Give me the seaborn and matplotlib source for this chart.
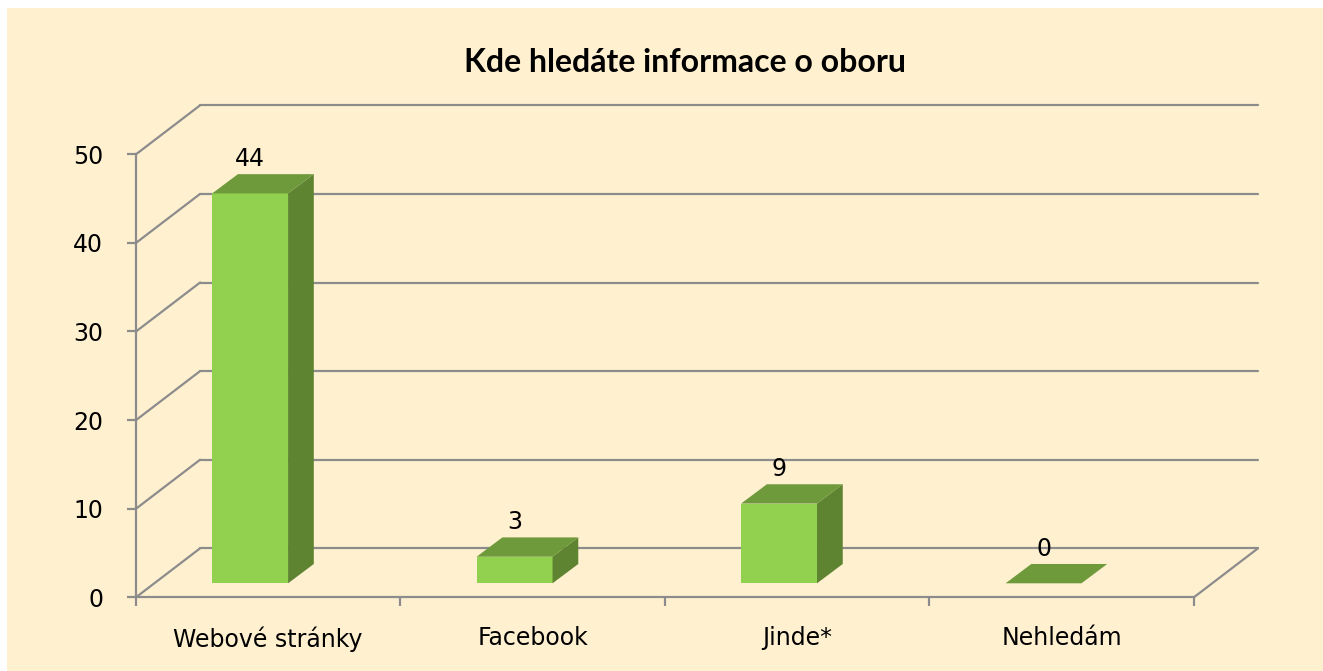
import pandas as pd
import seaborn as sns
import matplotlib.pyplot as plt
from matplotlib.patches import Polygon, Rectangle

# data
categories = ["Webové stránky", "Facebook", "Jinde*", "Nehledám"]
values = [44, 3, 9, 0]
y_ticks = [0, 10, 20, 30, 40, 50]
title = "Kde hledáte informace o oboru"

# colours
BG = "#FFF0D0"
FRONT = "#92D050"
SIDE = "#5E8431"
TOP = "#6E9A3C"
GRID = "#8C8C8C"

# fake 3D geometry (data units)
WALL_DX, WALL_DY = 0.2424, 5.53      # depth of back wall
BAR_W = 0.287                         # front face width
BAR_SHIFT = -0.0685                   # front face centre vs category centre
BAR_BOTTOM = 1.58                     # front face sits a bit into the floor
BAR_DX, BAR_DY = 0.0973, 2.18         # bar depth


def main():
	sns.set_style("white")
	plt.rcParams["font.family"] = ["DejaVu Sans"]
	plt.rcParams["text.color"] = "black"
	plt.rcParams["xtick.labelcolor"] = "black"
	plt.rcParams["ytick.labelcolor"] = "black"

	fig = plt.figure(figsize=(13.23, 6.71), dpi=100)
	fig.patch.set_facecolor("white")
	fig.patches.append(Rectangle((7 / 1323, 0), 1, 1 - 8 / 671, transform=fig.transFigure,
		facecolor=BG, edgecolor="none", zorder=-10))

	ax = fig.add_axes([136 / 1323, 73.7 / 671, 1122 / 1323, 492 / 671])
	ax.set_facecolor("none")

	df = pd.DataFrame({"where": categories, "count": values})
	sns.barplot(data=df, x="where", y="count", color=FRONT, saturation=1,
		width=BAR_W, edgecolor="none", ax=ax, zorder=3)

	ax.set_xlim(-0.5, 3.5 + WALL_DX)
	ax.set_ylim(0, 50 + WALL_DY)

	# back wall gridlines + left wall diagonals
	for k in y_ticks:
		ax.plot([-0.5 + WALL_DX, 3.5 + WALL_DX], [k + WALL_DY, k + WALL_DY],
			color=GRID, lw=1.6, zorder=1, clip_on=False)
		ax.plot([-0.5, -0.5 + WALL_DX], [k, k + WALL_DY],
			color=GRID, lw=1.6, zorder=1, clip_on=False)
	ax.plot([3.5, 3.5 + WALL_DX], [0, WALL_DY], color=GRID, lw=1.6, zorder=1, clip_on=False)

	# turn flat bars into boxes
	for patch, val in zip(ax.patches, values):
		patch.set_x(patch.get_x() + BAR_SHIFT)
		patch.set_y(BAR_BOTTOM)
		x0 = patch.get_x()
		x1 = x0 + patch.get_width()
		b = BAR_BOTTOM
		t = BAR_BOTTOM + val
		side = Polygon([(x1, b), (x1, t), (x1 + BAR_DX, t + BAR_DY), (x1 + BAR_DX, b + BAR_DY)],
			closed=True, facecolor=SIDE, edgecolor="none", zorder=3)
		top = Polygon([(x0, t), (x1, t), (x1 + BAR_DX, t + BAR_DY), (x0 + BAR_DX, t + BAR_DY)],
			closed=True, facecolor=TOP, edgecolor="none", zorder=3)
		ax.add_patch(side)
		ax.add_patch(top)
		ax.annotate(str(val), ((x0 + x1) / 2, t + BAR_DY), xytext=(0, 2.5),
			textcoords="offset points", ha="center", va="bottom", fontsize=17,
			color="black", zorder=5)

	# axes styling
	for s in ["top", "right"]:
		ax.spines[s].set_visible(False)
	ax.spines["left"].set_bounds(0, 50)
	ax.spines["bottom"].set_bounds(-0.5, 3.5)
	for s in ["left", "bottom"]:
		ax.spines[s].set_color(GRID)
		ax.spines[s].set_linewidth(1.6)
		ax.spines[s].set_zorder(2)

	ax.set_yticks(y_ticks)
	ax.tick_params(axis="y", length=6.5, width=1.6, color=GRID, direction="out",
		labelsize=17, pad=17, left=True, labelcolor="black")
	ax.set_xticks(range(len(categories)))
	ax.set_xticklabels(categories)
	ax.set_xticks([i - 0.5 for i in range(len(categories) + 1)], minor=True)
	ax.tick_params(axis="x", which="major", length=0, labelsize=17, pad=21,
		labelcolor="black")
	ax.tick_params(axis="x", which="minor", length=6.5, width=1.6, color=GRID,
		direction="out", bottom=True)
	ax.set_xlabel("")
	ax.set_ylabel("")

	fig.text(684.5 / 1323, 1 - 71.7 / 671, title, ha="center", va="baseline",
		fontsize=23, fontweight="bold", color="black", family=["Lato", "DejaVu Sans"])

	fig.savefig("out.png", dpi=100, facecolor=fig.get_facecolor())
	plt.close(fig)


if __name__ == "__main__":
	main()
